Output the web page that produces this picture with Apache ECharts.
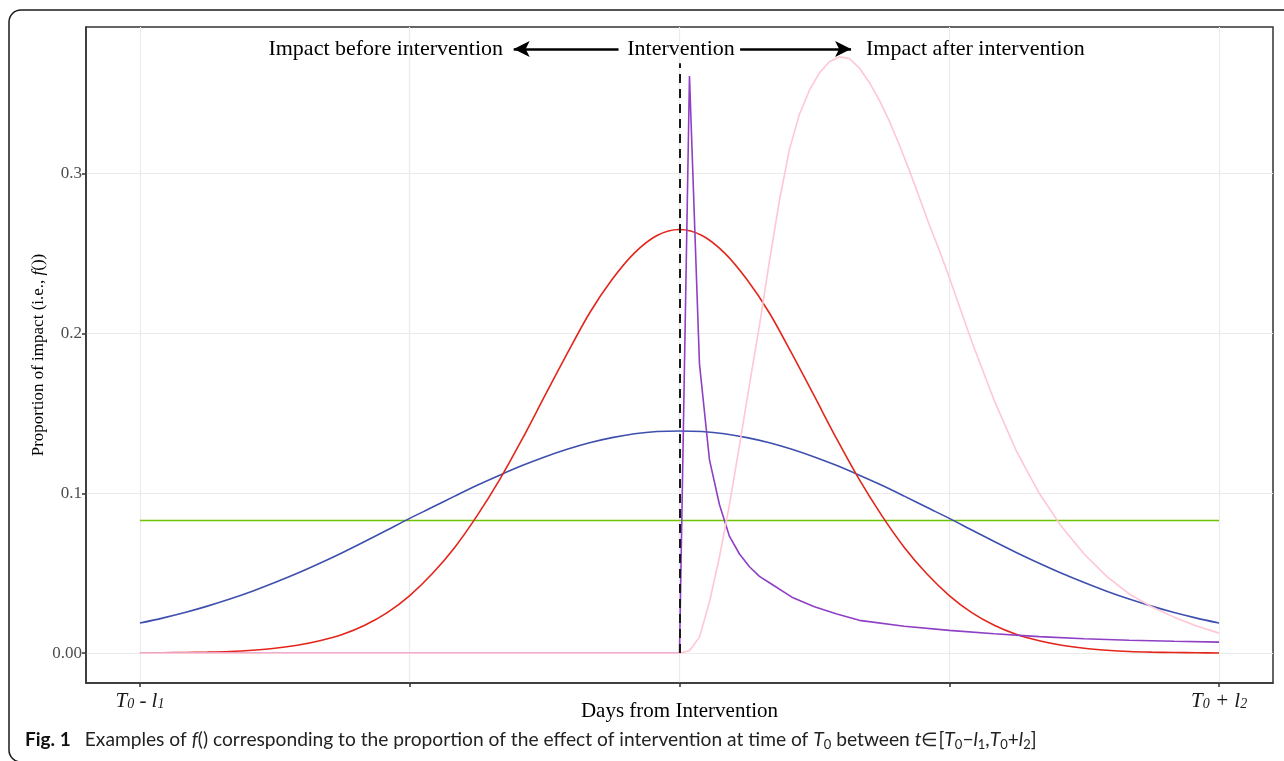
<!DOCTYPE html>
<html>
<head>
<meta charset="utf-8">
<style>
html, body { margin: 0; padding: 0; background: #fff; }
#chart { width: 1284px; height: 761px; }
</style>
<script src="https://cdn.jsdelivr.net/npm/echarts@6.0.0/dist/echarts.min.js"></script>
</head>
<body>
<div id="chart"></div>
<script>
// x runs from T0 - l1 (-6) to T0 + l2 (6), intervention at 0
const dayX = [-6, -5.75, -5.5, -5.25, -5, -4.75, -4.5, -4.25, -4, -3.75, -3.5, -3.25, -3,
	-2.75, -2.5, -2.25, -2, -1.75, -1.5, -1.25, -1, -0.75, -0.5, -0.25, 0,
	0.25, 0.5, 0.75, 1, 1.25, 1.5, 1.75, 2, 2.25, 2.5, 2.75, 3,
	3.25, 3.5, 3.75, 4, 4.25, 4.5, 4.75, 5, 5.25, 5.5, 5.75, 6];
const redY = [0.0001, 0.0002, 0.0004, 0.0006, 0.001, 0.0018, 0.003, 0.0049, 0.0077, 0.0116, 0.0174, 0.0253, 0.036,
	0.0496, 0.0661, 0.086, 0.1085, 0.1338, 0.1607, 0.1873, 0.2128, 0.2337, 0.2504, 0.2613, 0.265,
	0.2613, 0.2504, 0.2337, 0.2128, 0.1873, 0.1607, 0.1338, 0.1085, 0.086, 0.0661, 0.0496, 0.036,
	0.0253, 0.0174, 0.0116, 0.0077, 0.0049, 0.003, 0.0018, 0.001, 0.0006, 0.0004, 0.0002, 0.0001];
const blueY = [0.0188, 0.0219, 0.0254, 0.0294, 0.0338, 0.0387, 0.0441, 0.0499, 0.0562, 0.0628, 0.0698, 0.077, 0.0843,
	0.0912, 0.0982, 0.105, 0.1113, 0.1173, 0.1227, 0.1275, 0.1316, 0.1348, 0.1372, 0.1386, 0.139,
	0.1386, 0.1372, 0.1348, 0.1316, 0.1275, 0.1227, 0.1173, 0.1113, 0.105, 0.0982, 0.0912, 0.0843,
	0.077, 0.0698, 0.0628, 0.0562, 0.0499, 0.0441, 0.0387, 0.0338, 0.0294, 0.0254, 0.0219, 0.0188];
const greenX = [-6, 6];
const greenY = [0.083, 0.083];
const purpleX = [-6, 0, 0.111, 0.222, 0.333, 0.444, 0.556, 0.667, 0.778, 0.889, 1.0,
	1.25, 1.5, 1.75, 2.0, 2.5, 3.0, 3.5, 4.0, 4.5, 5.0, 5.5, 6.0];
const purpleY = [0, 0, 0.361, 0.181, 0.121, 0.093, 0.073, 0.062, 0.054, 0.048, 0.044,
	0.035, 0.029, 0.0245, 0.0205, 0.0168, 0.0142, 0.0121, 0.0103, 0.0090, 0.0080, 0.0074, 0.0069];
const pinkX = [-6, 0, 0.111, 0.222, 0.333, 0.444, 0.556, 0.667, 0.778, 0.889, 1.0, 1.111, 1.222,
	1.333, 1.444, 1.556, 1.667, 1.778, 1.889, 2.0, 2.111, 2.222, 2.333, 2.444, 2.556, 2.667,
	2.778, 2.889, 3.0, 3.25, 3.5, 3.75, 4.0, 4.25, 4.5, 4.75, 5.0, 5.25, 5.5, 5.75, 6.0];
const pinkY = [0, 0, 0.0015, 0.010, 0.032, 0.060, 0.093, 0.130, 0.168, 0.205, 0.245, 0.283, 0.315,
	0.337, 0.352, 0.363, 0.370, 0.373, 0.372, 0.366, 0.357, 0.346, 0.333, 0.318, 0.302, 0.285,
	0.268, 0.252, 0.235, 0.195, 0.158, 0.126, 0.100, 0.079, 0.062, 0.048, 0.037, 0.029, 0.0225, 0.017, 0.0125];

const xTicks = [-6, -3, 0, 3, 6];
const xLabelTicks = [-6, 6];
const yTicks = [0, 0.1, 0.2, 0.3];
const yTickLabels = ['0.00', '0.1', '0.2', '0.3'];

const serif = 'Liberation Serif';
const pairs = (xs, ys) => xs.map((x, i) => [x, ys[i]]);

let chart = echarts.init(document.getElementById('chart'));

let lineSeries = (name, xs, ys, color, smooth) => ({
	name: name,
	type: 'line',
	data: pairs(xs, ys),
	showSymbol: false,
	smooth: smooth,
	lineStyle: { color: color, width: 1.6 },
	itemStyle: { color: color },
	silent: true
});

let option = {
	animation: false,
	backgroundColor: '#fff',
	grid: {
		left: 86, right: 11, top: 27, bottom: 78,
		show: true, borderColor: '#333', borderWidth: 1.5
	},
	xAxis: {
		type: 'value',
		min: -6.6, max: 6.6,
		name: 'Days from Intervention',
		nameLocation: 'middle',
		nameGap: 18,
		nameMoveOverlap: false,
		nameTextStyle: { fontFamily: serif, fontSize: 21, color: '#000' },
		axisLine: { show: true, onZero: false, lineStyle: { color: '#333', width: 1.5 } },
		axisTick: { show: true, length: 4, customValues: xTicks, lineStyle: { color: '#333', width: 1.5 } },
		axisLabel: {
			customValues: xLabelTicks,
			margin: 8,
			formatter: v => v < 0 ? '{i|T}{s|0}{i| - l}{s|1}' : '{i|T}{s|0}{i| + l}{s|2}',
			rich: {
				i: { fontFamily: serif, fontStyle: 'italic', fontSize: 21, color: '#1a1a1a' },
				s: { fontFamily: serif, fontStyle: 'italic', fontSize: 14, color: '#1a1a1a', padding: [6, 0, 0, 0] }
			}
		},
		splitLine: { show: true, lineStyle: { color: '#ebebeb', width: 1.2 } }
	},
	yAxis: {
		type: 'value',
		min: -0.0187, max: 0.3917,
		name: 'Proportion of impact (i.e., {i|f}())',
		nameLocation: 'middle',
		nameGap: 39,
		nameMoveOverlap: false,
		nameTextStyle: {
			fontFamily: serif, fontSize: 17, color: '#000',
			rich: { i: { fontFamily: serif, fontStyle: 'italic', fontSize: 17, color: '#000' } }
		},
		axisLine: { show: true, onZero: false, lineStyle: { color: '#333', width: 1.5 } },
		axisTick: { show: true, length: 4, customValues: yTicks, lineStyle: { color: '#333', width: 1.5 } },
		axisLabel: {
			customValues: yTicks,
			margin: 4,
			fontFamily: serif, fontSize: 17, color: '#4d4d4d',
			formatter: v => {
				let k = yTicks.findIndex(t => Math.abs(t - v) < 1e-9);
				return k < 0 ? '' : yTickLabels[k];
			}
		},
		splitLine: { show: true, lineStyle: { color: '#ebebeb', width: 1.2 } }
	},
	series: [
		lineSeries('uniform', greenX, greenY, '#6ec400', false),
		lineSeries('wide', dayX, blueY, '#3f4fae', 0.3),
		lineSeries('narrow', dayX, redY, '#e3261b', 0.3),
		lineSeries('spike', purpleX, purpleY, '#8e3fc4', false),
		lineSeries('delayed', pinkX, pinkY, '#ffc6d3', false),
		{
			// intervention marker and the two arrows
			type: 'line',
			data: [],
			z: 10,
			silent: true,
			markLine: {
				silent: true,
				animation: false,
				label: { show: false },
				emphasis: { disabled: true },
				data: [
					[{ coord: [0, 0], symbol: 'none', lineStyle: { color: '#1a1a1a', width: 2, type: [9, 6] } },
						{ coord: [0, 0.369], symbol: 'none' }],
					[{ coord: [-0.678, 0.378], symbol: 'none', lineStyle: { color: '#000', width: 2.5, type: 'solid' } },
						{ coord: [-1.844, 0.378], symbol: 'arrow', symbolSize: [12, 16] }],
					[{ coord: [0.674, 0.378], symbol: 'none', lineStyle: { color: '#000', width: 2.5, type: 'solid' } },
						{ coord: [1.908, 0.378], symbol: 'arrow', symbolSize: [12, 16] }]
				]
			}
		}
	],
	graphic: [
		{
			type: 'rect',
			shape: { x: 9, y: 10, width: 1300, height: 752, r: [12, 0, 0, 12] },
			style: { fill: null, stroke: '#1a1a1a', lineWidth: 1.5 },
			silent: true
		},
		{
			type: 'text', x: 503, y: 49,
			style: { text: 'Impact before intervention', font: '22px "Liberation Serif"', fill: '#000', align: 'right', verticalAlign: 'middle' }
		},
		{
			type: 'text', x: 681, y: 49,
			style: { text: 'Intervention', font: '22px "Liberation Serif"', fill: '#000', align: 'center', verticalAlign: 'middle' }
		},
		{
			type: 'text', x: 866, y: 49,
			style: { text: 'Impact after intervention', font: '22px "Liberation Serif"', fill: '#000', align: 'left', verticalAlign: 'middle' }
		},
		{
			type: 'text', x: 25, y: 740,
			style: {
				text: '{b|Fig. 1}{n|Examples of }{i|f}{n|() corresponding to the proportion of the effect of intervention at time of }{i|T}{s|0}{n| between }{i|t}{n|∈[}{i|T}{s|0}{n|−}{i|l}{s|1}{n|,}{i|T}{s|0}{n|+}{i|l}{s|2}{n|]}',
				verticalAlign: 'middle',
				rich: {
					b: { fontFamily: 'Lato', fontWeight: 'bold', fontSize: 19, fill: '#111', padding: [0, 14, 0, 0] },
					n: { fontFamily: 'Lato', fontSize: 19.2, fill: '#222' },
					i: { fontFamily: 'Lato', fontStyle: 'italic', fontSize: 19.2, fill: '#222' },
					s: { fontFamily: 'Lato', fontSize: 13, fill: '#222', padding: [9, 0, 0, 0] }
				}
			}
		}
	]
};

chart.setOption(option);
</script>
</body>
</html>
